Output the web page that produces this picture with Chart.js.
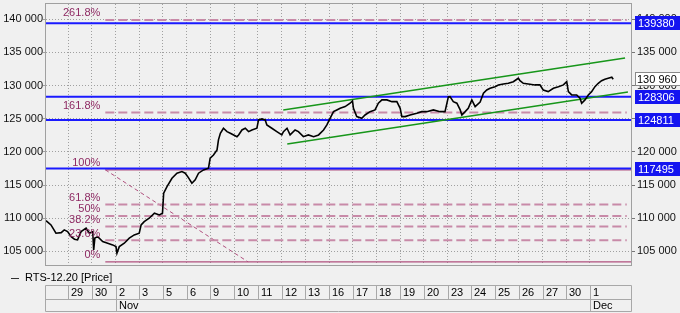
<!DOCTYPE html>
<html>
<head>
<meta charset="utf-8">
<script src="https://cdn.jsdelivr.net/npm/chart.js@4.4.1/dist/chart.umd.min.js"></script>
<style>
  body { margin: 0; background: #f0f0f0; }
  #wrap { width: 680px; height: 313px; }
</style>
</head>
<body>
<div id="wrap"><canvas id="chart"></canvas></div>
<script>
// x is measured in trading days: 1 = start of 29 Oct, 23 = start of 1 Dec
var dayLabels = ['29', '30', '2', '3', '5', '6', '9', '10', '11', '12', '13', '16', '17', '18', '19', '20', '23', '24', '25', '26', '27', '30', '1'];
var monthStarts = [3, 23];
var monthNames = ['Nov', 'Dec'];

var yTicks = [105000, 110000, 115000, 120000, 125000, 130000, 135000, 140000];

var priceX = [0.07,0.28,0.49,0.71,0.84,0.98,1.13,1.27,1.40,1.55,
  1.76,1.90,2.04,2.08,2.13,2.25,2.46,2.67,2.88,3.02,
  3.06,3.16,3.37,3.58,3.79,4.00,4.08,4.21,4.42,4.64,
  4.85,4.98,5.03,5.17,5.38,5.59,5.80,5.94,6.08,6.22,
  6.36,6.50,6.71,6.92,6.99,7.13,7.28,7.34,7.42,7.55,
  7.70,7.84,7.98,8.12,8.19,8.33,8.47,8.61,8.75,8.96,
  9.03,9.17,9.31,9.38,9.59,9.80,10.01,10.08,10.23,10.36,
  10.57,10.71,10.92,11.13,11.35,11.56,11.77,11.91,12.05,12.19,
  12.33,12.47,12.68,12.89,12.99,13.03,13.17,13.38,13.52,13.73,
  13.94,14.08,14.23,14.44,14.65,14.86,15.00,15.07,15.21,15.42,
  15.70,15.91,16.12,16.40,16.68,16.89,17.03,17.10,17.24,17.39,
  17.53,17.60,17.74,17.87,18.02,18.16,18.37,18.51,18.65,18.79,
  19.00,19.14,19.35,19.56,19.77,19.98,20.05,20.19,20.40,20.68,
  20.89,21.03,21.24,21.46,21.67,21.88,22.02,22.09,22.23,22.44,
  22.58,22.65,22.79,22.93,23.07,23.21,23.35,23.49,23.63,23.77,
  23.92,23.98];
var priceY = [109640,108990,107740,107830,108240,107980,107230,106840,106730,107980,
  108500,107740,107980,105220,107030,107230,106480,106230,105980,105720,
  104730,105720,106230,106990,107490,107740,108990,109490,110000,110760,
  110500,110760,113770,114770,116030,116790,117030,116790,116080,115280,
  115780,116790,117280,117540,119050,119540,120300,121810,122820,123570,
  123060,122820,122560,122300,122560,123310,123570,123060,123310,123570,
  124820,124970,124820,124070,123570,123060,122560,123060,123570,122560,
  123310,123060,122300,122560,122300,122560,123310,124070,125080,126070,
  126330,126580,126830,127340,127690,126580,125320,125080,125570,126070,
  126330,127340,127840,127840,127580,127580,126580,125320,125320,125570,
  125830,126070,126070,126330,126070,126070,128290,128330,127580,127340,
  126330,125570,126070,126580,127840,126830,127530,128850,129340,129600,
  129840,130100,130250,130350,130590,131110,130740,130350,130250,130100,
  130100,129340,129090,129600,129840,130100,130590,129090,128590,128590,
  128090,127340,127840,128590,129090,129840,130350,130740,130960,131110,
  131260,130960];
var lastPrice = 130960;

var levelValues = [139380, 128306, 124811, 117495];

var fibLabels = ['261.8%', '161.8%', '100%', '61.8%', '50%', '38.2%', '23.6%', '0%'];
var fibValues = [139900, 125950, 117300, 112060, 110350, 108770, 106700, 103420];
var fibStart = 2.57;
var fibEnd = 24.55;
var diagX = [2.57, 8.59];
var diagY = [117300, 103420];

var upperX = [10.07, 24.48];
var upperY = [126330, 134170];
var lowerX = [10.24, 24.60];
var lowerY = [121200, 129040];

var xMin = 0.07, xMax = 24.73;
var yMin = 102950, yMax = 142300;

var FONT = '11px "Liberation Sans", Arial, sans-serif';

function fmt(v) {
    return String(v).replace(/\B(?=(\d{3})+(?!\d))/g, ' ');
}

function pts(xs, ys) {
    var out = [];
    for (var i = 0; i < Math.min(xs.length, ys.length); i++) out.push({x: xs[i], y: ys[i]});
    return out;
}

// no extra padding above/below the value axes
function fitY(width) {
    return function (s) {
        s.width = width;
        s.paddingTop = 0;
        s.paddingBottom = 0;
    };
}

var datasets = [];
datasets.push({ data: pts(priceX, priceY), borderColor: '#000', borderWidth: 1.6 });
datasets.push({ data: pts(upperX, upperY), borderColor: '#17961a', borderWidth: 1.6 });
datasets.push({ data: pts(lowerX, lowerY), borderColor: '#17961a', borderWidth: 1.6 });
levelValues.forEach(function (v) {
    datasets.push({ data: pts([xMin, xMax], [v, v]), borderColor: '#1a1aff', borderWidth: 2 });
});
fibValues.forEach(function (v, i) {
    var solid = fibLabels[i] === '0%' || fibLabels[i] === '100%';
    datasets.push({
        data: pts([fibStart, solid ? xMax : fibEnd], [v, v]),
        borderColor: solid ? '#b0507e' : '#c88aa8',
        borderWidth: solid ? 1.2 : 2,
        borderDash: solid ? [] : [9, 4]
    });
});
datasets.push({ data: pts(diagX, diagY), borderColor: '#b0507e', borderWidth: 1, borderDash: [4, 3] });

var overlay = {
    id: 'overlay',
    beforeDatasetsDraw: function (chart) {
        var a = chart.chartArea, ctx = chart.ctx;
        ctx.save();
        ctx.strokeStyle = '#a0a0a0';
        ctx.lineWidth = 1;
        ctx.strokeRect(a.left - 0.5, a.top - 0.5, a.right - a.left + 1, a.bottom - a.top + 1);
        ctx.restore();
    },
    afterDatasetsDraw: function (chart) {
        var ctx = chart.ctx, xs = chart.scales.x, ys = chart.scales.y;
        ctx.save();
        ctx.font = FONT;
        ctx.fillStyle = '#8e2a63';
        ctx.textAlign = 'right';
        ctx.textBaseline = 'bottom';
        var lx = xs.getPixelForValue(fibStart) - 5;
        fibValues.forEach(function (v, i) {
            ctx.fillText(fibLabels[i], lx, ys.getPixelForValue(v) - 1);
        });
        ctx.restore();
    },
    afterDraw: function (chart) {
        var ctx = chart.ctx, xs = chart.scales.x, ys = chart.scales.y, a = chart.chartArea;
        ctx.save();
        ctx.font = FONT;
        ctx.textBaseline = 'middle';
        ctx.textAlign = 'left';

        // price boxes on the right axis
        levelValues.forEach(function (v) {
            var y = Math.round(ys.getPixelForValue(v));
            ctx.fillStyle = '#1414f0';
            ctx.fillRect(a.right + 4, y - 7, 50, 14);
            ctx.fillStyle = '#fff';
            ctx.fillText(String(v), a.right + 7, y + 0.5);
        });
        var py = Math.round(ys.getPixelForValue(lastPrice));
        ctx.fillStyle = '#fff';
        ctx.fillRect(a.right + 4, py - 7, 46, 14);
        ctx.strokeStyle = '#888';
        ctx.strokeRect(a.right + 4.5, py - 6.5, 45, 13);
        ctx.fillStyle = '#000';
        ctx.fillText(fmt(lastPrice), a.right + 6, py + 0.5);

        // legend
        ctx.strokeStyle = '#333';
        ctx.lineWidth = 1;
        ctx.beginPath();
        ctx.moveTo(11, 278.5);
        ctx.lineTo(19, 278.5);
        ctx.stroke();
        ctx.fillStyle = '#000';
        ctx.fillText('RTS-12.20 [Price]', 25, 278);

        // date table
        var top = 285.5, mid = 299.5, bot = 311.5;
        var left = a.left - 0.5, right = a.right + 0.5;
        ctx.strokeStyle = '#a8a8a8';
        ctx.beginPath();
        [top, mid, bot].forEach(function (y) { ctx.moveTo(left, y); ctx.lineTo(right, y); });
        ctx.moveTo(left, top); ctx.lineTo(left, bot);
        ctx.moveTo(right, top); ctx.lineTo(right, bot);
        dayLabels.forEach(function (d, i) {
            var x = Math.round(xs.getPixelForValue(i + 1)) + 0.5;
            ctx.moveTo(x, top); ctx.lineTo(x, mid);
        });
        monthStarts.forEach(function (m) {
            var x = Math.round(xs.getPixelForValue(m)) + 0.5;
            ctx.moveTo(x, mid); ctx.lineTo(x, bot);
        });
        ctx.stroke();
        ctx.fillStyle = '#000';
        dayLabels.forEach(function (d, i) {
            ctx.fillText(d, Math.round(xs.getPixelForValue(i + 1)) + 3, 293);
        });
        monthStarts.forEach(function (m, i) {
            ctx.fillText(monthNames[i], Math.round(xs.getPixelForValue(m)) + 3, 306);
        });
        ctx.restore();
    }
};

new Chart(document.getElementById('chart'), {
    type: 'line',
    data: { datasets: datasets },
    plugins: [overlay],
    options: {
        responsive: true,
        maintainAspectRatio: false,
        animation: false,
        layout: { padding: { top: 4, left: 0, right: 0, bottom: 0 } },
        elements: { point: { radius: 0 }, line: { tension: 0 } },
        plugins: { legend: { display: false }, tooltip: { enabled: false } },
        scales: {
            x: {
                type: 'linear', min: xMin, max: xMax,
                afterBuildTicks: function (s) { s.ticks = dayLabels.map(function (d, i) { return {value: i + 1}; }); },
                ticks: { display: false },
                grid: { color: '#a0a0a0', drawTicks: false },
                border: { display: false, dash: [1, 2] },
                afterFit: function (s) { s.height = 48; s.paddingLeft = 0; s.paddingRight = 0; }
            },
            y: {
                position: 'left', min: yMin, max: yMax,
                afterBuildTicks: function (s) { s.ticks = yTicks.map(function (v) { return {value: v}; }); },
                ticks: { callback: fmt, color: '#111', font: { family: '"Liberation Sans", Arial, sans-serif', size: 11 }, padding: 0 },
                grid: { color: '#a0a0a0', tickLength: 3 },
                border: { display: false, dash: [1, 2] },
                afterFit: fitY(46)
            },
            y2: {
                position: 'right', min: yMin, max: yMax,
                afterBuildTicks: function (s) { s.ticks = yTicks.map(function (v) { return {value: v}; }); },
                ticks: { callback: fmt, color: '#111', font: { family: '"Liberation Sans", Arial, sans-serif', size: 11 }, padding: 2 },
                grid: { drawOnChartArea: false, color: '#777', tickLength: 4 },
                border: { display: false },
                afterFit: fitY(49)
            }
        }
    }
});
</script>
</body>
</html>
